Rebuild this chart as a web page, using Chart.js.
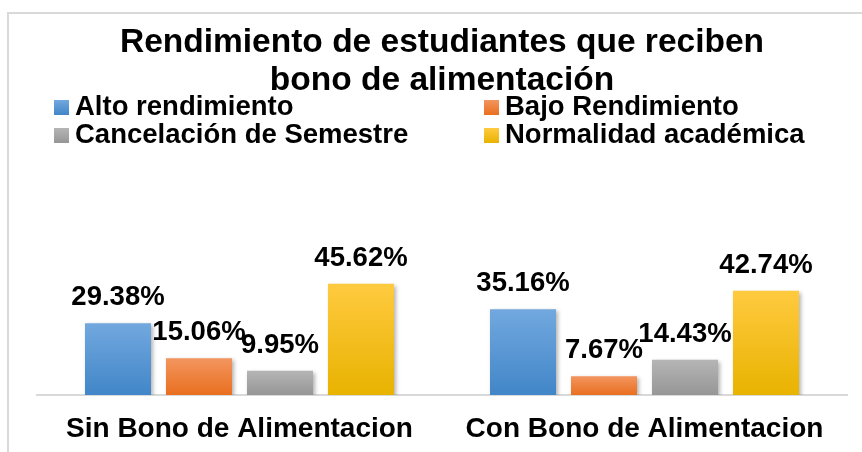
<!DOCTYPE html>
<html>
<head>
<meta charset="utf-8">
<script src="https://cdn.jsdelivr.net/npm/chart.js"></script>
<style>
  html, body { margin: 0; padding: 0; background: #fff; overflow: hidden; }
  #wrap { position: relative; width: 862px; height: 452px; }
  #frame { position: absolute; left: 7px; top: 12px; width: 1000px; height: 600px; border: 2px solid #d9d9d9; }
  #chart { position: absolute; left: 0; top: 0; }
</style>
</head>
<body>
<div id="wrap">
  <div id="frame"></div>
  <canvas id="chart" width="862" height="452"></canvas>
</div>
<script>
// categorias y series (porcentajes)
const categorias = ['Sin Bono de Alimentacion', 'Con Bono de Alimentacion'];
const series = ['Alto rendimiento', 'Bajo Rendimiento', 'Cancelación de Semestre', 'Normalidad académica'];
const altoRendimiento = [29.38, 35.16];
const bajoRendimiento = [15.06, 7.67];
const cancelacion = [9.95, 14.43];
const normalidad = [45.62, 42.74];

// colores de degradado: arriba, abajo
const colores = [
  ['#72a8df', '#4186c8'],
  ['#f3955f', '#e96f1f'],
  ['#b5b5b5', '#969696'],
  ['#ffca3f', '#e8b300']
];

const FUENTE = '"Liberation Sans", Arial, sans-serif';

function relleno(i) {
  return function(context) {
    const chart = context.chart;
    const { ctx, chartArea, scales } = chart;
    if (!chartArea || context.raw === undefined) return colores[i][1];
    const y0 = scales.y.getPixelForValue(0);
    const y1 = scales.y.getPixelForValue(context.raw);
    const g = ctx.createLinearGradient(0, y1, 0, y0);
    g.addColorStop(0, colores[i][0]);
    g.addColorStop(1, colores[i][1]);
    return g;
  };
}

// sombra suave detras de las barras
const sombra = {
  id: 'sombra',
  beforeDatasetsDraw(chart) {
    const ctx = chart.ctx;
    ctx.save();
    ctx.shadowColor = 'rgba(0,0,0,0.3)';
    ctx.shadowBlur = 4;
    ctx.shadowOffsetX = 2;
    ctx.shadowOffsetY = 2;
  },
  afterDatasetsDraw(chart) {
    chart.ctx.restore();
  }
};

// etiquetas de valor encima de cada barra
const etiquetas = {
  id: 'etiquetas',
  afterDraw(chart) {
    const ctx = chart.ctx;
    ctx.save();
    ctx.font = 'bold 27.5px ' + FUENTE;
    ctx.fillStyle = '#000';
    ctx.textAlign = 'center';
    ctx.textBaseline = 'alphabetic';
    chart.data.datasets.forEach((ds, i) => {
      chart.getDatasetMeta(i).data.forEach((bar, j) => {
        ctx.fillText(ds.data[j].toFixed(2) + '%', bar.x, bar.y - 18);
      });
    });
    ctx.restore();
  }
};

// leyenda en dos columnas
const leyenda = {
  id: 'leyenda',
  afterDraw(chart) {
    const ctx = chart.ctx;
    const cols = [54, 484];
    const filas = [100, 128];
    ctx.save();
    ctx.font = 'bold 27.5px ' + FUENTE;
    ctx.fillStyle = '#000';
    ctx.textBaseline = 'alphabetic';
    chart.data.datasets.forEach((ds, i) => {
      const x = cols[i % 2];
      const y = filas[Math.floor(i / 2)];
      const g = ctx.createLinearGradient(0, y, 0, y + 15);
      g.addColorStop(0, colores[i][0]);
      g.addColorStop(1, colores[i][1]);
      ctx.fillStyle = g;
      ctx.fillRect(x, y, 15, 15);
      ctx.fillStyle = '#000';
      ctx.fillText(ds.label, x + 21, y + 15);
    });
    ctx.restore();
  }
};

const valores = [altoRendimiento, bajoRendimiento, cancelacion, normalidad];

new Chart(document.getElementById('chart'), {
  type: 'bar',
  data: {
    labels: categorias,
    datasets: series.map((nombre, i) => ({
      label: nombre,
      data: valores[i],
      backgroundColor: relleno(i),
      borderWidth: 0,
      categoryPercentage: 0.8,
      barPercentage: 0.815
    }))
  },
  options: {
    responsive: false,
    animation: false,
    layout: { padding: { left: 37, right: 15, top: 0, bottom: 6 } },
    plugins: {
      legend: { display: false },
      tooltip: { enabled: false },
      title: {
        display: true,
        text: ['Rendimiento de estudiantes que reciben', 'bono de alimentación'],
        color: '#000',
        font: { family: FUENTE, size: 33.5, weight: 'bold', lineHeight: 1.13 },
        padding: { top: 24, bottom: 149 }
      }
    },
    scales: {
      x: {
        grid: { display: false, drawTicks: false },
        border: { display: true, color: '#d9d9d9', width: 2 },
        ticks: {
          color: '#000',
          padding: 17,
          font: { family: FUENTE, size: 28, weight: 'bold' }
        },
        afterFit(scale) { scale.height = 51; }
      },
      y: { display: false, min: 0, max: 60 }
    }
  },
  plugins: [sombra, etiquetas, leyenda]
});
</script>
</body>
</html>
